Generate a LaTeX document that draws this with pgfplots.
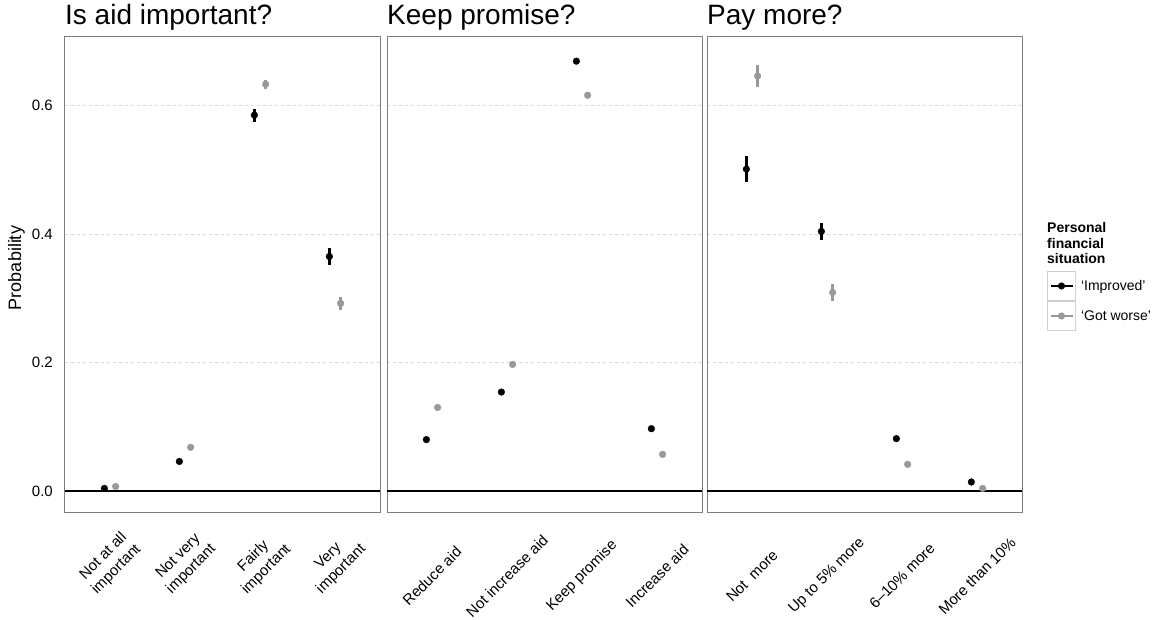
\documentclass[border=0pt]{standalone}
\usepackage{fontspec}
\setmainfont{Liberation Sans}
\usepackage{pgfplots}
\pgfplotsset{compat=1.18}
\usepackage{pgfplotstable}
\definecolor{gry}{HTML}{999999}
\definecolor{framec}{HTML}{7F7F7F}
\definecolor{gridc}{HTML}{D9D9D9}
\definecolor{keyb}{HTML}{D0D0D0}

% k = category; bp/be = 'Improved' prob/half error; gp/ge = 'Got worse'
\pgfplotstableread{
k bp be gp ge
1 0.004 0.001 0.007 0.001
2 0.046 0.002 0.068 0.002
3 0.585 0.010 0.633 0.007
4 0.365 0.013 0.292 0.010
}\tA
\pgfplotstableread{
k bp be gp ge
1 0.080 0.002 0.130 0.003
2 0.154 0.002 0.197 0.002
3 0.669 0.003 0.616 0.005
4 0.097 0.003 0.057 0.002
}\tB
\pgfplotstableread{
k bp be gp ge
1 0.501 0.020 0.646 0.017
2 0.404 0.013 0.309 0.013
3 0.0815 0.004 0.0415 0.002
4 0.014 0.002 0.004 0.001
}\tC

\pgfplotsset{
  panel/.style={
    scale only axis, width=315pt, height=476pt,
    anchor=south west,
    xmin=0.4, xmax=4.6, ymin=-0.0327, ymax=0.7082,
    xtick={1,2,3,4}, ytick={0,0.2,0.4,0.6},
    major tick length=0pt,
    ymajorgrids,
    major grid style={gridc, dash pattern=on 3pt off 3pt, line width=0.7pt},
    axis line style={framec, line width=1pt},
    tick label style={font=\fontsize{15}{18.4}\selectfont},
    /pgf/number format/assume math mode=true,
    yticklabel style={anchor=east, inner sep=0pt, xshift=-12pt,
      /pgf/number format/fixed, /pgf/number format/fixed zerofill,
      /pgf/number format/precision=1},
    title style={at={(axis description cs:0,1)}, anchor=base west, yshift=6pt,
      inner sep=0pt, font=\fontsize{28}{34}\selectfont},
  },
  ser/.style={forget plot, only marks, mark=*, mark size=3.4pt, color=#1,
    mark options={line width=0.3pt},
    /pgfplots/error bars/y dir=both, /pgfplots/error bars/y explicit,
    /pgfplots/error bars/error mark=none,
    /pgfplots/error bars/error bar style={line width=2.6pt, color=#1}},
}

\begin{document}
\begin{tikzpicture}
\useasboundingbox (0,0) rectangle (1169pt,619pt);

\begin{axis}[panel, at={(65pt,107pt)},
  title={Is aid important?},
  xticklabels={{Not at all\\important},{Not very\\important},{Fairly\\important},{Very\\important}},
  xticklabel style={yshift=-51pt, rotate=45, anchor=center, inner sep=0pt, align=center},
  ylabel={Probability},
  ylabel style={at={(axis description cs:-0.127,0.5126)}, anchor=south, inner sep=0pt,
    font=\fontsize{18}{22}\selectfont},
]
\addplot[black, line width=1.8pt, forget plot] coordinates {(0.4,0) (4.6,0)};
\addplot[ser=black] table[x expr=\thisrow{k}-0.075, y=bp, y error=be]{\tA};
\addplot[ser=gry] table[x expr=\thisrow{k}+0.075, y=gp, y error=ge]{\tA};
\end{axis}

\begin{axis}[panel, at={(387pt,107pt)},
  title={Keep promise?},
  xticklabels={{Reduce aid},{Not increase aid},{Keep promise},{Increase aid}},
  xticklabel style={yshift=-64pt, rotate=45, anchor=center, inner sep=0pt},
  yticklabels={},
]
\addplot[black, line width=1.8pt, forget plot] coordinates {(0.4,0) (4.6,0)};
\addplot[ser=black] table[x expr=\thisrow{k}-0.075, y=bp, y error=be]{\tB};
\addplot[ser=gry] table[x expr=\thisrow{k}+0.075, y=gp, y error=ge]{\tB};
\end{axis}

\begin{axis}[panel, at={(707pt,107pt)},
  title={Pay more?},
  xticklabels={{Not\ \ more},{Up to 5\% more},{6--10\% more},{More than 10\%}},
  xticklabel style={yshift=-64pt, rotate=45, anchor=center, inner sep=0pt},
  yticklabels={},
  legend style={at={(1.0794,0.5063)}, anchor=north west, draw=none, fill=none,
    inner sep=0pt, outer sep=0pt, row sep=0pt, column sep=4pt,
    font=\fontsize{14}{16}\selectfont, nodes={inner sep=1pt}},
  legend cell align=left,
]
\addplot[black, line width=1.8pt, forget plot] coordinates {(0.4,0) (4.6,0)};
\addplot[ser=black] table[x expr=\thisrow{k}-0.075, y=bp, y error=be]{\tC};
\addplot[ser=gry] table[x expr=\thisrow{k}+0.075, y=gp, y error=ge]{\tC};
\addlegendimage{legend image code/.code={
  \draw[keyb, line width=1pt] (0pt,-14.5pt) rectangle (28pt,14.5pt);
  \draw[black, line width=2.6pt] (3pt,0pt) -- (25pt,0pt);
  \fill[black] (14pt,0pt) circle (3.3pt);}}
\addlegendentry{`Improved'}
\addlegendimage{legend image code/.code={
  \draw[keyb, line width=1pt] (0pt,-14.5pt) rectangle (28pt,14.5pt);
  \draw[gry, line width=2.6pt] (3pt,0pt) -- (25pt,0pt);
  \fill[gry] (14pt,0pt) circle (3.3pt);}}
\addlegendentry{`Got worse'}
\end{axis}

\node[anchor=north west, inner sep=0pt, align=left,
  font=\bfseries\fontsize{14}{15.8}\selectfont] at (1047pt,397pt)
  {Personal\\financial\\situation};
\end{tikzpicture}
\end{document}
